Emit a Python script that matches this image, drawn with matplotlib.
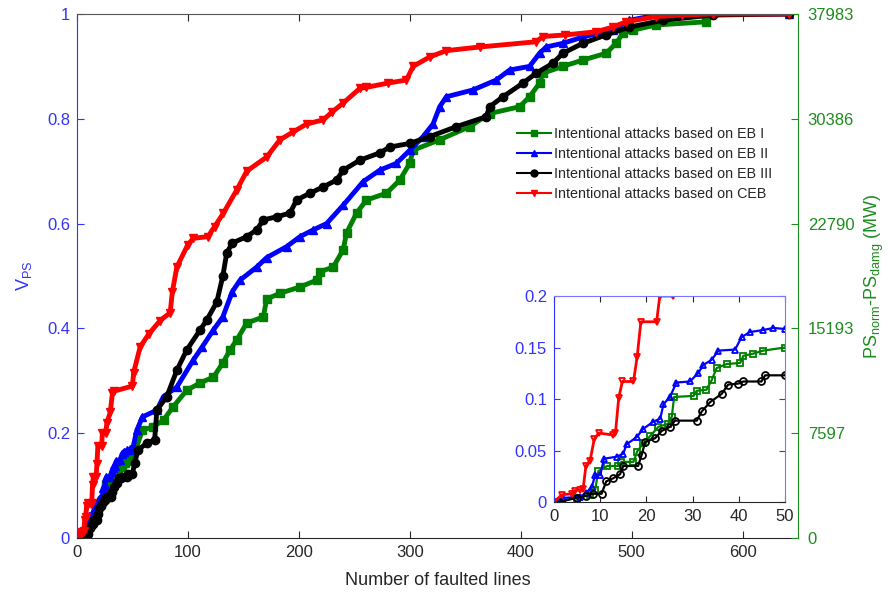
import numpy as np
import matplotlib
matplotlib.use("Agg")
import matplotlib.pyplot as plt
from matplotlib.lines import Line2D

plt.rcParams['font.family'] = ['Liberation Sans', 'DejaVu Sans']
plt.rcParams['mathtext.default'] = 'regular'

# values (x = number of faulted lines, y = V_PS)
eb1_x = [0, 4.9, 7.8, 8.9, 9.6, 11.5, 13.9, 14.6, 17.2, 18, 19.3, 20.8, 22.6, 24.7, 25.5, 26,
         30.2, 30.9, 33, 34.1, 35.2, 37.4, 40.3, 41, 43.1, 45.3, 50, 59, 68.5, 78, 86.5, 99,
         111, 123, 131.5, 138, 144, 153, 168, 171, 183, 201, 216, 219, 231, 240, 243, 252,
         261, 279, 291, 300, 303, 327, 354, 372, 399, 408, 417, 420, 438, 456, 477, 486, 492,
         501, 522, 567]
eb1_y = [0, 0.004, 0.007, 0.012, 0.03, 0.035, 0.035, 0.039, 0.039, 0.049, 0.057, 0.064, 0.073,
         0.076, 0.083, 0.102, 0.103, 0.108, 0.109, 0.118, 0.13, 0.134, 0.135, 0.142, 0.144,
         0.147, 0.15, 0.206, 0.212, 0.225, 0.25, 0.282, 0.296, 0.307, 0.334, 0.359, 0.378,
         0.41, 0.422, 0.456, 0.467, 0.479, 0.492, 0.508, 0.517, 0.55, 0.582, 0.62, 0.645,
         0.658, 0.683, 0.715, 0.74, 0.76, 0.785, 0.81, 0.823, 0.842, 0.868, 0.887, 0.9, 0.912,
         0.925, 0.944, 0.963, 0.969, 0.979, 0.985]

eb2_x = [0, 2, 5.6, 7, 8.2, 8.9, 10, 10.8, 13.6, 15, 15.7, 17.9, 19.3, 21.5, 23, 23.7, 25.1,
         26.5, 29.4, 31.2, 32.3, 34.1, 35.6, 39.2, 40.6, 42.4, 45.3, 47.5, 50, 54, 59, 72, 78,
         90, 105, 113, 123, 131.5, 140, 147, 162, 171, 189, 201, 213, 225, 240, 258, 273, 288,
         300, 312, 321, 327, 333, 357, 378, 390, 408, 417, 423, 438, 456, 483, 498, 528, 642]
eb2_y = [0, 0.004, 0.005, 0.009, 0.015, 0.026, 0.026, 0.042, 0.044, 0.047, 0.056, 0.063, 0.071,
         0.078, 0.081, 0.095, 0.102, 0.116, 0.117, 0.125, 0.133, 0.138, 0.147, 0.148, 0.16,
         0.165, 0.167, 0.169, 0.168, 0.206, 0.231, 0.244, 0.27, 0.288, 0.34, 0.365, 0.397,
         0.422, 0.47, 0.492, 0.517, 0.535, 0.556, 0.575, 0.588, 0.6, 0.635, 0.68, 0.702, 0.715,
         0.74, 0.766, 0.79, 0.823, 0.842, 0.855, 0.874, 0.893, 0.9, 0.925, 0.937, 0.944, 0.956,
         0.97, 0.988, 1.0, 1.0]

eb3_x = [1, 4.9, 7, 8.5, 10.3, 11.3, 12.8, 14.3, 15, 18.2, 19, 19.7, 21.9, 23.3, 25.1, 26.2,
         30.9, 32, 33.8, 36.3, 37.7, 39.9, 41, 44.9, 45.7, 50, 52, 55, 63, 70, 72, 81, 90, 99,
         111, 117, 126, 131.5, 135, 140, 153, 162, 168, 180, 192, 198, 210, 222, 234, 240, 255,
         273, 282, 300, 318, 342, 369, 372, 384, 402, 414, 429, 438, 456, 477, 498, 528, 573,
         642]
eb3_y = [0, 0.004, 0.006, 0.008, 0.008, 0.02, 0.023, 0.027, 0.035, 0.035, 0.046, 0.058, 0.062,
         0.069, 0.073, 0.079, 0.079, 0.088, 0.097, 0.105, 0.114, 0.115, 0.117, 0.117, 0.123,
         0.123, 0.143, 0.168, 0.181, 0.187, 0.244, 0.27, 0.32, 0.359, 0.397, 0.416, 0.45, 0.5,
         0.544, 0.563, 0.575, 0.588, 0.607, 0.613, 0.62, 0.645, 0.658, 0.67, 0.683, 0.702,
         0.721, 0.735, 0.746, 0.753, 0.766, 0.785, 0.804, 0.823, 0.842, 0.868, 0.887, 0.906,
         0.925, 0.944, 0.96, 0.975, 0.988, 0.998, 1.0]

ceb_x = [0, 1.7, 3.8, 4.5, 5.6, 6.3, 6.9, 7.8, 8.7, 9.7, 12.8, 13.3, 14, 14.8, 17.2, 18, 18.8,
         22.2, 22.9, 25.8, 27, 30, 32, 33, 50, 51, 57, 65, 75, 84, 86, 90, 100, 105, 118, 124,
         132, 144, 153, 171, 183, 195, 207, 222, 230, 240, 255, 261, 280, 297, 303, 318, 333,
         363, 414, 420, 440, 468, 483, 495, 522, 545, 573, 642]
ceb_y = [0, 0.007, 0.008, 0.011, 0.012, 0.013, 0.035, 0.04, 0.061, 0.067, 0.065, 0.067, 0.101,
         0.117, 0.117, 0.141, 0.175, 0.175, 0.2, 0.2, 0.22, 0.24, 0.277, 0.28, 0.29, 0.315,
         0.365, 0.39, 0.415, 0.43, 0.47, 0.517, 0.56, 0.572, 0.575, 0.594, 0.62, 0.664, 0.7,
         0.727, 0.76, 0.775, 0.79, 0.798, 0.813, 0.83, 0.858, 0.86, 0.868, 0.874, 0.9, 0.918,
         0.93, 0.937, 0.947, 0.957, 0.96, 0.966, 0.975, 0.985, 0.995, 0.998, 1.0, 1.0]

labels = ['Intentional attacks based on EB I', 'Intentional attacks based on EB II',
          'Intentional attacks based on EB III', 'Intentional attacks based on CEB']
ps_ticks = [0, 7597, 15193, 22790, 30386, 37983]

series = [(eb1_x, eb1_y), (eb2_x, eb2_y), (eb3_x, eb3_y), (ceb_x, ceb_y)]
colors = ['#008000', '#0000ff', '#000000', '#ff0000']
markers = ['s', '^', 'o', 'v']
gray = '#262626'
blue = '#3333ff'
green = '#1e8c1e'

fig = plt.figure(figsize=(8.9, 5.95), dpi=100)
ax = fig.add_axes([0.0865, 0.0958, 0.8101, 0.8807])

for (x, y), c, m in zip(series, colors, markers):
    ax.plot(x, y, color=c, lw=3.5, marker=m, ms=6, mfc=c, mec=c, mew=1)

ax.set_xlim(0, 650)
ax.set_ylim(0, 1)
ax.set_xticks([0, 100, 200, 300, 400, 500, 600])
ax.set_yticks([0, 0.2, 0.4, 0.6, 0.8, 1])
ax.set_yticklabels(['0', '0.2', '0.4', '0.6', '0.8', '1'])
ax.tick_params(axis='x', direction='in', top=True, length=5, labelsize=12,
               colors=gray, pad=5)
ax.tick_params(axis='y', direction='in', length=5, labelsize=12, colors=blue, pad=5)
ax.spines['left'].set_color(blue)
ax.spines['bottom'].set_color(gray)
ax.spines['top'].set_color('#555555')
ax.spines['right'].set_visible(False)
ax.set_xlabel('Number of faulted lines', fontsize=13, color=gray, labelpad=9)
ax.set_ylabel('V$_{PS}$', fontsize=13, color=blue, labelpad=9)

ax2 = ax.twinx()
ax2.set_ylim(0, ps_ticks[-1])
ax2.set_yticks(ps_ticks)
ax2.set_yticklabels([str(t) for t in ps_ticks])
ax2.tick_params(axis='y', direction='in', length=5, labelsize=12, colors=green, pad=7)
for s in ['left', 'top', 'bottom']:
    ax2.spines[s].set_visible(False)
ax2.spines['right'].set_color(green)
ax2.set_ylabel('PS$_{norm}$-PS$_{damg}$ (MW)', fontsize=13, color=green, labelpad=6)

handles = [Line2D([], [], color=c, lw=1.5, marker=m, ms=5, mfc=c, mec=c)
           for c, m in zip(colors, markers)]
leg = ax.legend(handles, labels, loc='center left', bbox_to_anchor=(0.566, 0.724),
                bbox_transform=fig.transFigure, frameon=False, fontsize=10.3,
                handlelength=2.4, handletextpad=0.2, labelspacing=0.42)
for t in leg.get_texts():
    t.set_color(gray)

# zoomed view of the first 50 lines
ins = fig.add_axes([0.6225, 0.1563, 0.2595, 0.3462])
for (x, y), c, m in zip(series, colors, markers):
    ins.plot(x, y, color=c, lw=1.6 if c != '#ff0000' else 2, marker=m, ms=5,
             mfc='none', mec=c, mew=1.3)
ins.set_xlim(0, 50)
ins.set_ylim(0, 0.2)
ins.set_xticks([0, 10, 20, 30, 40, 50])
ins.set_yticks([0, 0.05, 0.1, 0.15, 0.2])
ins.set_yticklabels(['0', '0.05', '0.1', '0.15', '0.2'])
ins.tick_params(axis='x', direction='in', top=True, length=4, labelsize=12,
                colors=gray, pad=5)
ins.tick_params(axis='y', direction='in', right=True, length=4, labelsize=12,
                colors=blue, pad=5)
ins.spines['left'].set_color(blue)
ins.spines['right'].set_color('#7777ff')
ins.spines['top'].set_color('#7777ff')
ins.spines['bottom'].set_color(gray)

fig.savefig('out.png', dpi=100)
